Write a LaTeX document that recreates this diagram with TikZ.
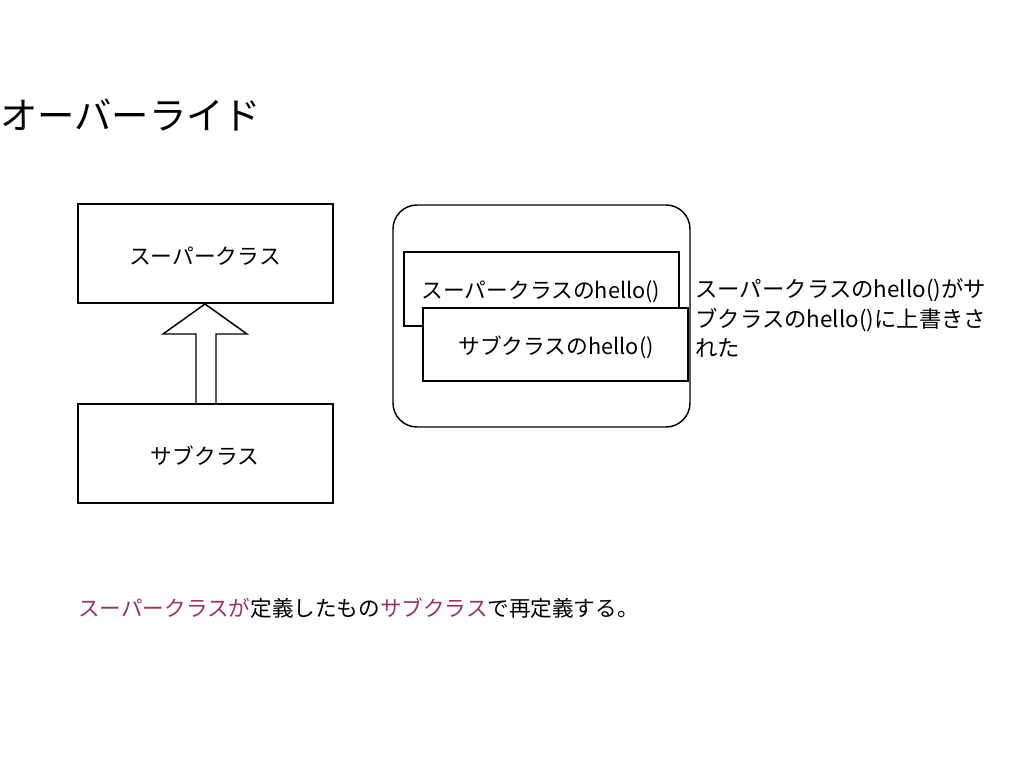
\documentclass[tikz,border=0pt]{standalone}
\usepackage{fontspec}
\setmainfont{Noto Sans CJK JP}
\definecolor{pur}{HTML}{993366}
\begin{document}
\begin{tikzpicture}[x=0.75pt,y=-0.75pt,
  box/.style={draw,line width=1.1pt,fill=white},
  lbl/.style={inner sep=0,font=\fontsize{16.3}{19}\selectfont}]
\useasboundingbox (0,0) rectangle (1024,768);
\node[anchor=west,inner sep=0,font=\fontsize{28}{33}\selectfont] (title) at (0,115) {オーバーライド};
\draw[box] (78,204) rectangle (333,303);
\node[lbl] (sup) at (205,256) {スーパークラス};
\draw[box] (78,404) rectangle (333,503);
\node[lbl] (sub) at (205,456) {サブクラス};
\draw[line width=1.1pt] (205,304) -- (247,334) -- (216,334) -- (216,404) -- (196,404) -- (196,334) -- (163,334) -- cycle;
\draw[line width=1.1pt,rounded corners=18] (393,205) rectangle (690,427);
\draw[box] (404,252) rectangle (679,326);
\node[lbl] (h1) at (541,292) {スーパークラスのhello()};
\draw[box] (423,308) rectangle (688,381);
\node[lbl] (h2) at (556,347) {サブクラスのhello()};
\node[lbl,anchor=west,font=\fontsize{16.8}{20}\selectfont] (n1) at (695,290) {スーパークラスのhello()がサ};
\node[lbl,anchor=west,font=\fontsize{16.8}{20}\selectfont] (n2) at (695,320) {ブクラスのhello()に上書きさ};
\node[lbl,anchor=west,font=\fontsize{16.8}{20}\selectfont] (n3) at (695,348) {れた};
\node[lbl,anchor=west,font=\fontsize{16.2}{19}\selectfont] (bottom) at (78,608) {\textcolor{pur}{スーパークラスが}定義したもの\textcolor{pur}{サブクラス}で再定義する。};
\end{tikzpicture}
\end{document}
